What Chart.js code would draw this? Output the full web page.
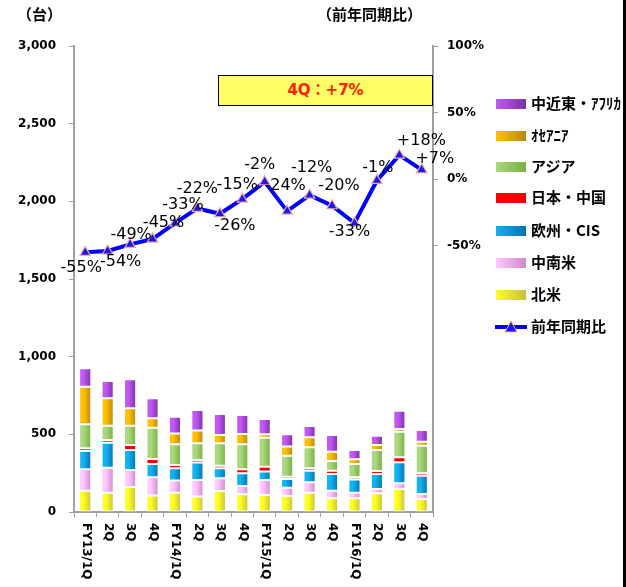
<!DOCTYPE html>
<html>
<head>
<meta charset="utf-8">
<script src="https://cdn.jsdelivr.net/npm/chart.js@4/dist/chart.umd.min.js"></script>
<style>
  html, body { margin: 0; padding: 0; background: #fff; }
  #wrap { position: relative; width: 626px; height: 587px; overflow: hidden; background: #fff; }
  #c { position: absolute; left: 0; top: 0; }
  .cjk { font-family: "Noto Sans CJK JP", "DejaVu Sans", sans-serif; font-weight: bold; color: #000; position: absolute; white-space: nowrap; }
  .sw { position: absolute; width: 30px; height: 10px; }
  .lt { position: absolute; font-size: 15px; line-height: 20px; }
  #box { position: absolute; left: 218px; top: 75px; width: 215px; height: 31px; box-sizing: border-box;
         border: 1px solid #000; background: #FFFF66; color: #FF2000; text-align: center;
         font: bold 15px "DejaVu Sans", "Noto Sans CJK JP", sans-serif; line-height: 29px; }
  #edge { position: absolute; left: 623px; top: 0; width: 3px; height: 587px; background: #000; }
</style>
</head>
<body>
<div id="wrap">
  <canvas id="c" width="626" height="587"></canvas>
  <div class="cjk" style="left:17px;top:5px;font-size:15px;line-height:18px;">（台）</div>
  <div class="cjk" style="left:317px;top:5px;font-size:15px;line-height:18px;">（前年同期比）</div>
  <div id="box">4Q：+7%</div>
  <div id="legend"></div>
  <div id="edge"></div>
</div>
<script>
// ---- data ----
const categories = ['FY13/1Q','2Q','3Q','4Q','FY14/1Q','2Q','3Q','4Q','FY15/1Q','2Q','3Q','4Q','FY16/1Q','2Q','3Q','4Q'];
const northAmerica     = [137,124,161,107,124, 99,135,114,109,103,124, 88, 88,120,148, 84];
const latinAmerica     = [138,161,109,116, 78,107, 82, 53, 97, 53, 67, 49, 36, 28, 37, 32];
const europeCIS        = [118,161,129, 86, 79,112, 64, 82, 54, 56, 75,108, 86, 97,135,118];
const japanChina       = [ 17, 18, 32, 32, 22, 17, 17, 26, 32, 15, 15, 21, 13, 19, 32, 15];
const asia             = [155, 92,125,202,133,107,144,161,186,135,136, 62, 86,135,165,178];
const oceania          = [242,176,112, 60, 70, 82, 54, 66, 22, 59, 64, 60, 30, 32, 17, 26];
const middleEastAfrica = [118,111,186,129,108,133,135,122, 99, 79, 73,108, 60, 60,118, 75];
const yoyPercent       = [-55,-54,-49,-45,-33,-22,-26,-15, -2,-24,-12,-20,-33, -1, 18,  7];
const leftTicks  = [0, 500, 1000, 1500, 2000, 2500, 3000];
const rightTicks = [-50, 0, 50, 100];

// ---- styles ----
const yoyLabelOffsets = [[-4,15],[13,11],[1,-10],[11,-16],[8,-18],[0,-20],[15,12],[-5,-14],
                         [-5,-17],[-2,-25],[2,-27],[7,-20],[-5,9],[1,-13],[22,-14],[13,-11]];
const BAR_W = 12;
function grad(c1, c2) {
  return function(ctx) {
    const chart = ctx.chart;
    const xs = chart.scales && chart.scales.x;
    if (!xs || ctx.dataIndex === undefined || !isFinite(xs.getPixelForValue(ctx.dataIndex))) return c1;
    const x = xs.getPixelForValue(ctx.dataIndex);
    const g = chart.ctx.createLinearGradient(x - BAR_W / 2, 0, x + BAR_W / 2, 0);
    g.addColorStop(0, c1);
    g.addColorStop(0.35, c1);
    g.addColorStop(1, c2);
    return g;
  };
}
const series = [
  { label: '北米',       data: northAmerica,     c1: '#FFFF20', c2: '#C8C040' },
  { label: '中南米',     data: latinAmerica,     c1: '#FFC8FF', c2: '#D088D0' },
  { label: '欧州・CIS',  data: europeCIS,        c1: '#10B4F0', c2: '#0074B0' },
  { label: '日本・中国', data: japanChina,       c1: '#FF0000', c2: '#F00000' },
  { label: 'アジア',     data: asia,             c1: '#AAD880', c2: '#78B040' },
  { label: 'ｵｾｱﾆｱ',      data: oceania,          c1: '#FFC000', c2: '#B88A10' },
  { label: '中近東・ｱﾌﾘｶ', data: middleEastAfrica, c1: '#C458F4', c2: '#7A30AA' }
];

const datasets = series.map(s => ({
  type: 'bar',
  label: s.label,
  data: s.data,
  backgroundColor: grad(s.c1, s.c2),
  borderColor: '#FFFFFF',
  borderWidth: 1,
  borderSkipped: false,
  stack: 's',
  yAxisID: 'y',
  order: 2,
  barPercentage: 0.6,
  categoryPercentage: 0.9
}));
datasets.push({
  type: 'line',
  label: '前年同期比',
  data: yoyPercent,
  yAxisID: 'y1',
  borderColor: '#0000FF',
  borderWidth: 4,
  pointStyle: 'triangle',
  pointRadius: 6,
  pointBackgroundColor: '#1A1AE6',
  pointBorderColor: '#F0A8A8',
  pointBorderWidth: 1.2,
  tension: 0,
  order: 0
});

const labelPlugin = {
  id: 'customText',
  afterDatasetsDraw(chart) {
    const ctx = chart.ctx;
    const meta = chart.getDatasetMeta(datasets.length - 1);
    ctx.save();
    ctx.font = '16px "DejaVu Sans", sans-serif';
    ctx.fillStyle = '#000';
    ctx.textAlign = 'center';
    ctx.textBaseline = 'middle';
    meta.data.forEach((pt, i) => {
      const v = yoyPercent[i];
      const txt = (v > 0 ? '+' : '') + v + '%';
      const o = yoyLabelOffsets[i];
      ctx.fillText(txt, pt.x + o[0], pt.y + o[1]);
    });
    ctx.restore();
  },
  afterDraw(chart) {
    const ctx = chart.ctx;
    const xs = chart.scales.x;
    ctx.save();
    ctx.font = 'bold 12px "DejaVu Sans", sans-serif';
    ctx.fillStyle = '#000';
    ctx.textAlign = 'left';
    ctx.textBaseline = 'middle';
    categories.forEach((c, i) => {
      const x = xs.getPixelForValue(i);
      ctx.save();
      ctx.translate(x + 0.5, xs.top + 11);
      ctx.rotate(Math.PI / 2);
      ctx.fillText(c, 0, 0);
      ctx.restore();
    });
    ctx.restore();
  }
};

const tickFont = { family: '"DejaVu Sans", sans-serif', size: 12, weight: 'bold' };
new Chart(document.getElementById('c'), {
  data: { labels: categories, datasets },
  options: {
    responsive: false,
    animation: false,
    devicePixelRatio: 1,
    layout: { padding: { left: 0, right: 0, top: 46, bottom: 0 } },
    plugins: { legend: { display: false }, tooltip: { enabled: false } },
    scales: {
      x: {
        offset: true,
        border: { color: '#A0A0A0', width: 2 },
        grid: { display: true, offset: true, drawOnChartArea: false, drawTicks: true, tickLength: 5, color: '#A0A0A0', lineWidth: 1 },
        ticks: { display: false },
        afterFit(s) { s.height = 75; }
      },
      y: {
        position: 'left',
        min: 0, max: 3000,
        afterBuildTicks(s) { s.ticks = leftTicks.map(v => ({ value: v })); },
        border: { color: '#A0A0A0', width: 2 },
        grid: { drawOnChartArea: false, drawTicks: true, tickLength: 5, color: '#A0A0A0' },
        ticks: { font: tickFont, color: '#000', padding: 13, callback: v => v.toLocaleString('en-US') },
        afterFit(s) { s.width = 74; }
      },
      y1: {
        position: 'right',
        min: -250, max: 100,
        afterBuildTicks(s) { s.ticks = rightTicks.map(v => ({ value: v })); },
        border: { color: '#A0A0A0', width: 2 },
        grid: { drawOnChartArea: false, drawTicks: true, tickLength: 5, color: '#A0A0A0' },
        ticks: { font: tickFont, color: '#000', padding: 9, callback: v => v + '%' },
        afterFit(s) { s.width = 193; }
      }
    }
  },
  plugins: [labelPlugin]
});

// ---- HTML legend ----
const legendItems = [
  { label: '中近東・ｱﾌﾘｶ', c1: '#C458F4', c2: '#7A30AA', cy: 104 },
  { label: 'ｵｾｱﾆｱ',      c1: '#FFC000', c2: '#B88A10', cy: 136 },
  { label: 'アジア',     c1: '#AAD880', c2: '#78B040', cy: 167 },
  { label: '日本・中国', c1: '#FF0000', c2: '#F00000', cy: 198 },
  { label: '欧州・CIS',  c1: '#10B4F0', c2: '#0074B0', cy: 231 },
  { label: '中南米',     c1: '#FFC8FF', c2: '#D088D0', cy: 263 },
  { label: '北米',       c1: '#FFFF20', c2: '#C8C040', cy: 295 }
];
const lg = document.getElementById('legend');
let html = '';
legendItems.forEach(it => {
  html += `<div class="sw" style="left:496px;top:${it.cy - 5}px;background:linear-gradient(to right, ${it.c1}, ${it.c2});"></div>`;
  html += `<div class="cjk lt" style="left:531px;top:${it.cy - 11}px;">${it.label}</div>`;
});
html += `<svg style="position:absolute;left:495px;top:318px" width="32" height="18"><line x1="0" y1="9" x2="32" y2="9" stroke="#0000FF" stroke-width="4"/><polygon points="16,3 22,14 10,14" fill="#1A1AE6" stroke="#F0A8A8" stroke-width="1"/></svg>`;
html += `<div class="cjk lt" style="left:531px;top:316px;">前年同期比</div>`;
lg.innerHTML = html;
</script>
</body>
</html>
